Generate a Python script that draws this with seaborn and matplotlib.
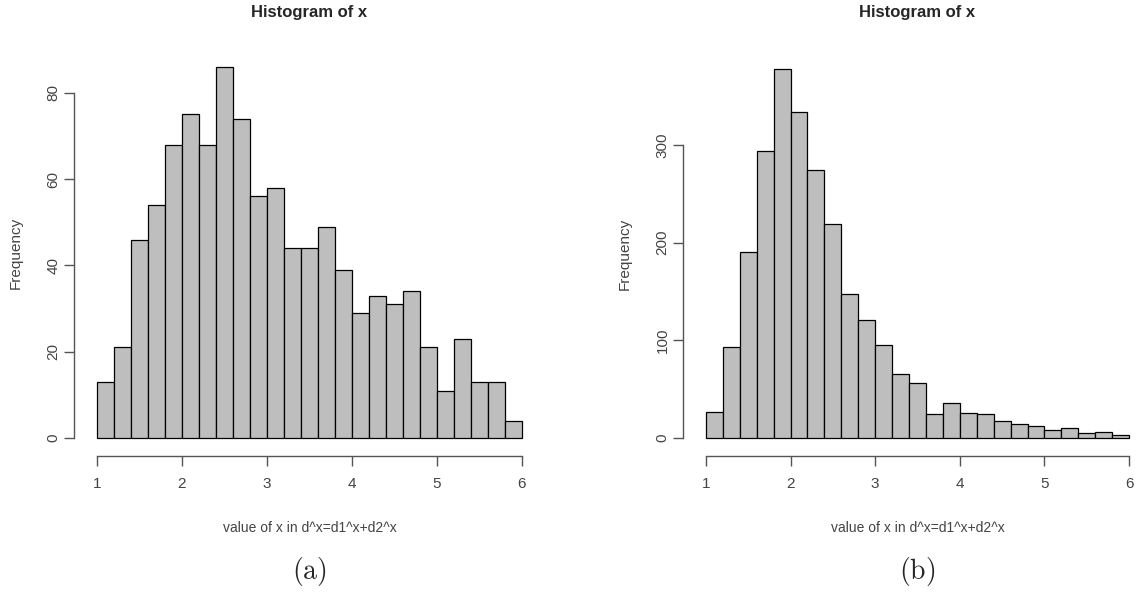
import numpy as np
import pandas as pd
import matplotlib
matplotlib.use("Agg")
import matplotlib.pyplot as plt
import seaborn as sns

# Data
bin_edges = [1.0 + 0.2 * i for i in range(26)]
counts_a = [13, 21, 46, 54, 68, 75, 68, 86, 74, 56, 58, 44, 44, 49, 39,
            29, 33, 31, 34, 21, 11, 23, 13, 13, 4]
counts_b = [27, 93, 191, 294, 378, 334, 274, 219, 148, 121, 95, 66, 57, 25,
            36, 26, 25, 18, 15, 12, 8, 10, 5, 6, 3]
x_ticks = [1, 2, 3, 4, 5, 6]
y_ticks_a = [0, 20, 40, 60, 80]
y_ticks_b = [0, 100, 200, 300]
title = "Histogram of x"
xlabel = "value of x in d^x=d1^x+d2^x"
ylabel = "Frequency"
panel_labels = ["(a)", "(b)"]

sns.set_style("white")
plt.rcParams['font.family'] = ['Liberation Sans', 'DejaVu Sans']
plt.rcParams['mathtext.fontset'] = 'cm'

W, H = 1147, 600
fig = plt.figure(figsize=(W / 100, H / 100), dpi=100)

def px_axes(x0, x1, y0, y1):
    return fig.add_axes([x0 / W, 1 - y1 / H, (x1 - x0) / W, (y1 - y0) / H])

axes = [px_axes(80, 539, 52, 453), px_axes(689, 1146, 54, 453)]
title_x = [309, 917]
datasets = [(counts_a, y_ticks_a), (counts_b, y_ticks_b)]
axis_col = "#555555"

for ax, (counts, yt), lab, tx in zip(axes, datasets, panel_labels, title_x):
    centers = [(bin_edges[i] + bin_edges[i + 1]) / 2 for i in range(len(counts))]
    df = pd.DataFrame({"x": centers, "w": counts})
    sns.histplot(data=df, x="x", weights="w", bins=bin_edges, ax=ax,
                 color="#BEBEBE", edgecolor="black", linewidth=0.9, alpha=1.0)
    ymax = max(counts) * 1.04
    ax.set_xlim(0.8, 6.2)
    ax.set_ylim(-0.04 * max(counts), ymax)
    for s in ["top", "right"]:
        ax.spines[s].set_visible(False)
    ax.spines["left"].set_bounds(yt[0], yt[-1])
    ax.spines["bottom"].set_bounds(1, 6)
    ax.spines["left"].set_position(("outward", 4))
    ax.spines["bottom"].set_position(("outward", 2))
    for s in ["left", "bottom"]:
        ax.spines[s].set_color(axis_col)
        ax.spines[s].set_linewidth(1.0)
    ax.set_xticks(x_ticks)
    ax.set_yticks(yt)
    ax.set_yticklabels([str(v) for v in yt], rotation=90, va="center")
    ax.tick_params(axis="both", direction="out", length=7, width=1.0,
                   color=axis_col, labelcolor="#444444", labelsize=11,
                   left=True, bottom=True)
    ax.tick_params(axis="x", pad=8)
    ax.tick_params(axis="y", pad=3)
    fig.text(tx / W, 1 - 13 / H, title, fontsize=12, fontweight="bold",
             ha="center", va="center")
    ax.set_xlabel(xlabel, fontsize=10, color="#444444", labelpad=22)
    ax.set_ylabel(ylabel, fontsize=11, color="#444444", labelpad=17)
    fig.text(tx / W, 1 - 572 / H, r"$\mathrm{" + lab + "}$",
             ha="center", va="center", fontsize=20)

fig.savefig("out.png", dpi=100, facecolor="white")
